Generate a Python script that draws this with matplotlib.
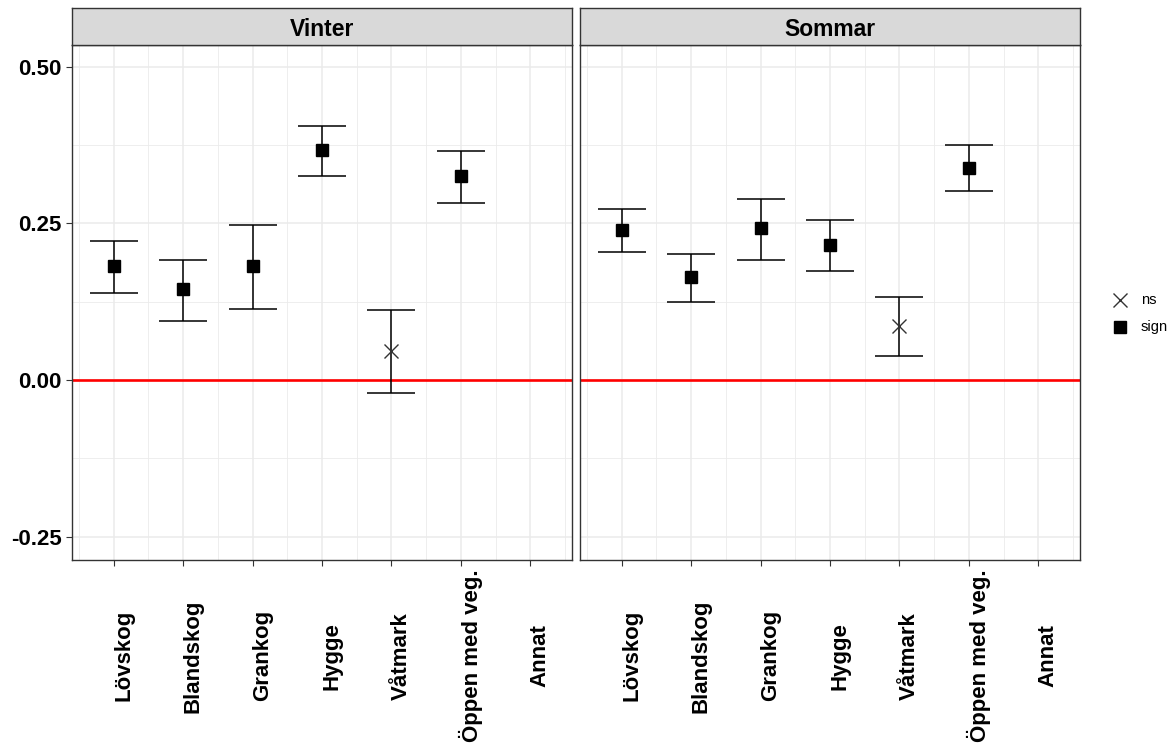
"""Habitat selection coefficients per season, ggplot-like facet layout."""

import matplotlib
matplotlib.use("Agg")
import matplotlib.pyplot as plt
from matplotlib.transforms import ScaledTranslation
import numpy as np

plt.rcParams["font.family"] = ["Liberation Sans", "DejaVu Sans"]

categories = ["Lövskog", "Blandskog", "Grankog", "Hygge", "Våtmark",
              "Öppen med veg.", "Annat"]
seasons = ["Vinter", "Sommar"]

# estimate, lower, upper, significance (None = no data)
vinter_est = [0.182, 0.145, 0.182, 0.367, 0.046, 0.326, None]
vinter_low = [0.139, 0.094, 0.113, 0.326, -0.021, 0.282, None]
vinter_high = [0.222, 0.191, 0.247, 0.405, 0.112, 0.365, None]
vinter_sig = ["sign", "sign", "sign", "sign", "ns", "sign", None]

sommar_est = [0.239, 0.164, 0.243, 0.215, 0.086, 0.338, None]
sommar_low = [0.204, 0.124, 0.191, 0.174, 0.038, 0.302, None]
sommar_high = [0.273, 0.201, 0.289, 0.255, 0.132, 0.375, None]
sommar_sig = ["sign", "sign", "sign", "sign", "ns", "sign", None]

yticks = [-0.25, 0.0, 0.25, 0.50]
ytick_labels = ["-0.25", "0.00", "0.25", "0.50"]

panels = [
    (vinter_est, vinter_low, vinter_high, vinter_sig),
    (sommar_est, sommar_low, sommar_high, sommar_sig),
]

fig = plt.figure(figsize=(11.76, 7.49), dpi=100)
W, H = 1176, 749
bottom_px, top_px = 560, 45
strip_px = 37
lefts = [72, 580]
width_px = 500

grid_col = "#EBEBEB"
border_col = "#333333"
label_shift = ScaledTranslation(10 / 100, 0, fig.dpi_scale_trans)

for i, (est, low, high, sig) in enumerate(panels):
    ax = fig.add_axes([lefts[i] / W, 1 - bottom_px / H,
                       width_px / W, (bottom_px - top_px) / H])
    x = np.arange(1, len(categories) + 1)

    ax.set_xlim(0.4, len(categories) + 0.6)
    ax.set_ylim(-0.287, 0.5345)

    # grid
    for xv in x:
        ax.axvline(xv, color=grid_col, lw=1.1, zorder=0)
    for xv in np.arange(0.5, len(categories) + 0.6, 1.0):
        ax.axvline(xv, color=grid_col, lw=0.6, zorder=0)
    for yv in yticks:
        ax.axhline(yv, color=grid_col, lw=1.1, zorder=0)
    for yv in [-0.125, 0.125, 0.375]:
        ax.axhline(yv, color=grid_col, lw=0.6, zorder=0)

    ax.axhline(0, color="#FF0000", lw=1.9, zorder=1)

    for xi, e, lo, hi, s in zip(x, est, low, high, sig):
        if e is None:
            continue
        ax.errorbar(xi, e, yerr=[[e - lo], [hi - e]], fmt="none",
                    ecolor="black", elinewidth=1.1, capsize=17,
                    capthick=1.1, zorder=2)
        if s == "sign":
            ax.plot(xi, e, marker="s", ms=9, color="black",
                    linestyle="none", zorder=3)
        else:
            ax.plot(xi, e, marker="x", ms=10, mew=1.0, color="#333333",
                    linestyle="none", zorder=3)

    ax.set_xticks(x)
    ax.set_xticklabels(categories, rotation=90, ha="center", va="center",
                       fontsize=16, fontweight="bold")
    ax.tick_params(axis="x", length=4, width=0.8, color=border_col, pad=65)
    for lab in ax.get_xticklabels():
        lab.set_transform(lab.get_transform() + label_shift)

    ax.set_yticks(yticks)
    if i == 0:
        ax.set_yticklabels(ytick_labels, fontsize=16, fontweight="bold")
        ax.tick_params(axis="y", length=4, width=0.8, color=border_col)
    else:
        ax.set_yticklabels([])
        ax.tick_params(axis="y", length=0)

    for sp in ax.spines.values():
        sp.set_color(border_col)
        sp.set_linewidth(1.0)

    # facet strip
    sax = fig.add_axes([lefts[i] / W, 1 - top_px / H,
                        width_px / W, strip_px / H])
    sax.set_xticks([])
    sax.set_yticks([])
    sax.set_facecolor("#D9D9D9")
    for sp in sax.spines.values():
        sp.set_color(border_col)
        sp.set_linewidth(1.0)
    sax.text(0.5, 0.42, seasons[i], ha="center", va="center",
             fontsize=16.5, fontweight="bold", transform=sax.transAxes)

# legend
lax = fig.add_axes([1095 / W, 1 - 335 / H, 81 / W, 55 / H])
lax.set_axis_off()
lax.set_xlim(0, 81)
lax.set_ylim(55, 0)
lax.plot(25, 20, marker="x", ms=10, mew=1.0, color="#333333")
lax.plot(25, 47, marker="s", ms=8.5, color="black")
lax.text(46, 20, "ns", va="center", ha="left", fontsize=10.5)
lax.text(46, 47, "sign", va="center", ha="left", fontsize=10.5)

fig.savefig("out.png", dpi=100, facecolor="white")
